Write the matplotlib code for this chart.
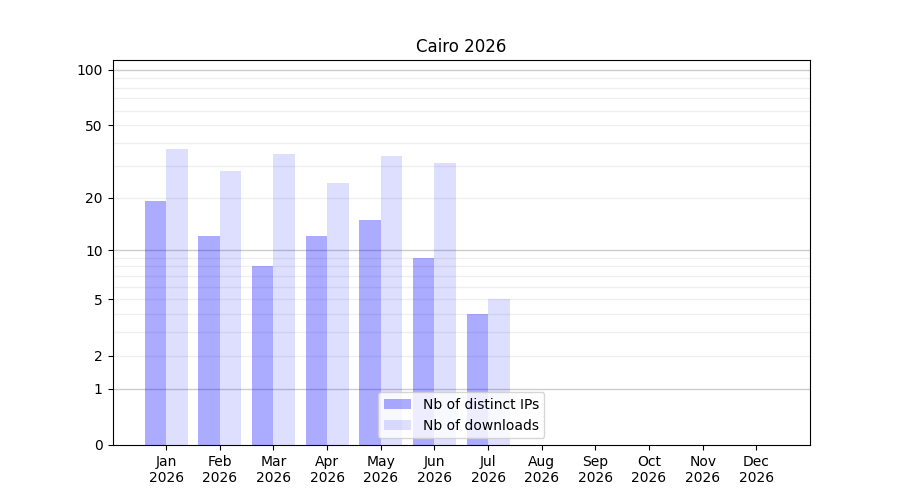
import numpy as np
import matplotlib
matplotlib.use("Agg")
import matplotlib.pyplot as plt

# data
months = ['Jan', 'Feb', 'Mar', 'Apr', 'May', 'Jun', 'Jul', 'Aug', 'Sep', 'Oct', 'Nov', 'Dec']
year = '2026'
distinct_ips = [19, 12, 8, 12, 15, 9, 4]
downloads = [37, 28, 35, 24, 34, 31, 5]
ytick_vals = [0, 1, 2, 5, 10, 20, 50, 100]


def fwd(v):
    return np.log10(1 + np.clip(v, 0, None))


def inv(v):
    return 10 ** v - 1


fig, ax = plt.subplots(figsize=(9, 5), dpi=100)
ax.set_yscale('function', functions=(fwd, inv))

x = np.arange(len(distinct_ips))
ax.bar(x, distinct_ips, width=-0.4, align='edge', color='blue', alpha=0.33,
       label='Nb of distinct IPs', zorder=2)
ax.bar(x, downloads, width=0.4, align='edge', color='blue', alpha=0.13,
       label='Nb of downloads', zorder=2)

# grid lines: decades darker, the rest light
for v in [1, 10, 100]:
    ax.axhline(v, color='gray', alpha=0.4, lw=1, zorder=1)
for d in [1, 10]:
    for k in range(2, 10):
        ax.axhline(k * d, color='gray', alpha=0.12, lw=1, zorder=1)

ax.set_ylim(0, 113)
ax.set_yticks(ytick_vals)
ax.set_yticklabels([str(v) for v in ytick_vals])
ax.yaxis.set_minor_locator(matplotlib.ticker.NullLocator())

ax.set_xlim(-1, 12)
ax.set_xticks(np.arange(len(months)))
ax.set_xticklabels([m + '\n' + year for m in months])

ax.set_title('Cairo 2026')
ax.legend(loc='lower center')

plt.savefig('out.png')
